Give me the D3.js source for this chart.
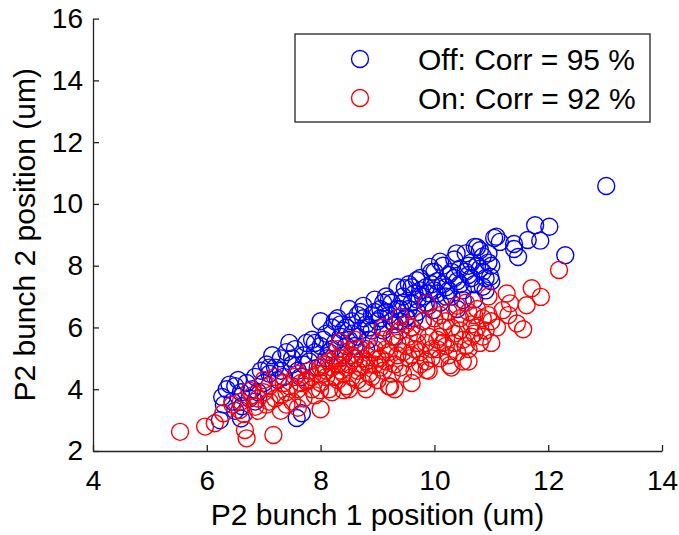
<!DOCTYPE html>
<html lang="en">
<head>
<meta charset="UTF-8">
<title>P2 bunch correlation</title>
<script src="https://d3js.org/d3.v7.min.js"></script>
<style>
  body { margin: 0; background: #fff; }
  text { font-family: "Liberation Sans", Arial, sans-serif; fill: #000; }
</style>
</head>
<body>
<svg id="chart" width="679" height="535"></svg>
<script>
// tick values
const xTicks = [4, 6, 8, 10, 12, 14];
const yTicks = [2, 4, 6, 8, 10, 12, 14, 16];

// legend labels
const seriesNames = ["Off: Corr = 95 %", "On: Corr = 92 %"];
const seriesColors = ["#0000ff", "#ff0000"];

// Off (blue) points, [bunch 1, bunch 2] in um
const offPoints = [
  [6.27,3.75],[6.35,4.0],[6.45,3.6],[6.5,4.1],[6.6,3.9],[6.55,4.3],[6.7,4.2],[6.75,3.7],
  [6.8,4.0],[6.85,4.4],[6.9,3.9],[6.95,4.6],[6.4,4.15],[6.62,3.45],[6.5,3.3],[6.85,3.6],
  [7.0,4.2],[7.05,4.8],[7.1,4.5],[6.23,3.0],[6.3,3.5],[6.6,3.05],[7.58,3.07],[7.67,3.22],
  [7.2,4.7],[7.3,5.0],[7.35,4.4],[7.4,5.2],[7.5,4.8],[7.55,5.3],[7.6,4.6],[7.7,5.1],
  [7.75,5.5],[7.8,4.9],[7.85,5.6],[7.9,5.2],[7.95,4.7],[8.0,6.2],[8.0,5.4],[7.15,5.1],
  [7.45,5.5],[7.25,4.3],[7.65,4.4],[7.5,5.0],[7.7,4.8],[7.9,5.5],[7.3,4.6],[7.1,4.7],
  [8.1,5.8],[8.15,5.2],[8.2,6.0],[8.25,5.5],[8.3,6.3],[8.35,5.7],[8.4,5.1],[8.45,6.0],
  [8.5,6.6],[8.5,5.6],[8.55,6.2],[8.6,5.4],[8.65,6.4],[8.7,5.9],[8.75,6.7],[8.8,6.1],
  [8.85,5.6],[8.9,6.4],[8.95,6.9],[9.0,6.2],[8.3,4.8],[8.6,5.0],[8.1,5.0],[8.4,5.9],
  [8.8,5.3],[8.7,6.5],[8.9,5.9],[8.05,5.6],[8.2,5.3],[8.35,6.1],[8.45,5.4],[8.55,5.8],
  [8.65,5.7],[8.75,6.3],[8.85,6.0],[8.95,6.5],[8.25,6.2],
  [9.05,6.6],[9.1,5.9],[9.15,7.0],[9.2,6.4],[9.25,6.8],[9.3,6.1],[9.35,7.3],[9.4,6.6],
  [9.45,7.0],[9.5,6.3],[9.55,7.4],[9.6,6.8],[9.65,7.1],[9.7,6.5],[9.75,7.6],[9.8,7.0],
  [9.85,7.3],[9.9,6.7],[9.95,7.8],[10.0,7.2],[9.3,5.7],[9.6,6.0],[9.8,6.2],[9.48,7.27],
  [9.69,7.53],[9.92,7.96],[9.51,6.35],[9.98,6.56],[9.2,6.9],[9.4,6.2],[9.7,6.9],[9.9,7.1],
  [9.05,6.3],[9.15,6.5],[9.25,6.2],[9.35,6.6],[9.45,6.8],[9.55,6.6],[9.65,6.3],[9.75,7.2],
  [9.85,6.8],[9.95,7.4],[9.1,6.8],[9.6,7.3],[10.0,7.8],
  [10.05,7.5],[10.1,6.8],[10.15,8.0],[10.2,7.3],[10.25,7.7],[10.3,7.0],[10.35,8.2],[10.4,7.5],
  [10.45,7.9],[10.5,7.2],[10.55,8.4],[10.6,7.7],[10.65,8.1],[10.7,7.4],[10.75,8.6],[10.8,7.9],
  [10.85,8.3],[10.9,7.6],[10.95,8.1],[11.0,8.0],[11.05,8.9],[10.7,6.9],[10.4,6.6],[10.9,7.2],
  [11.0,7.5],[10.1,8.13],[10.39,8.4],[10.71,8.61],[11.09,8.94],[10.5,6.89],[10.85,7.32],
  [10.98,7.64],[10.2,7.0],[10.6,8.0],[10.3,7.8],[10.05,7.1],[10.15,7.4],[10.25,7.2],
  [10.35,7.6],[10.45,7.4],[10.55,7.8],[10.65,7.6],[10.75,8.0],[10.85,7.8],[10.95,8.4],[10.8,8.5],
  [11.15,8.77],[11.4,8.7],[11.4,8.54],[11.47,8.28],[11.64,8.83],[11.77,9.31],[11.86,8.81],
  [12.02,9.26],[12.3,8.34],[13.02,10.58]
];

// On (red) points, [bunch 1, bunch 2] in um
const onPoints = [
  [5.53,2.62],[5.97,2.79],[6.14,2.9],[6.67,2.68],[6.7,2.41],[7.17,2.52],[6.29,3.22],[6.58,3.33],
  [6.85,3.43],[8.0,3.35],[6.45,3.5],[6.65,3.2],[7.6,3.4],
  [6.6,3.6],[6.8,3.8],[6.9,3.3],[7.0,3.9],[7.05,3.5],[7.1,4.1],[7.2,3.7],[7.3,3.3],
  [7.35,4.2],[7.4,3.9],[7.5,3.6],[7.55,4.4],[7.6,4.0],[7.7,3.7],[7.75,4.3],[7.8,4.6],
  [7.85,4.0],[7.9,3.8],[7.95,4.5],[8.0,4.2],[7.2,4.4],[7.0,4.3],[6.75,3.95],[7.99,3.97],
  [7.75,4.24],[7.4,3.5],[7.6,4.5],[7.45,4.1],[7.65,4.2],[7.85,4.4],[7.3,3.8],[7.1,3.6],
  [6.9,3.7],
  [8.05,4.8],[8.1,4.4],[8.15,4.0],[8.2,4.7],[8.25,5.0],[8.3,4.3],[8.35,4.6],[8.4,5.2],
  [8.45,4.1],[8.5,4.8],[8.55,4.4],[8.6,5.0],[8.65,4.6],[8.7,5.3],[8.75,4.2],[8.8,4.9],
  [8.85,4.5],[8.9,5.2],[8.95,4.8],[9.0,5.5],[8.2,3.9],[8.5,4.0],[8.8,4.0],[8.3,5.3],
  [8.6,5.6],[8.34,5.54],[8.63,5.32],[8.4,3.97],[8.1,4.6],[8.4,4.5],[8.7,4.7],[8.9,4.4],
  [8.05,4.5],[8.15,4.9],[8.25,4.4],[8.35,5.0],[8.45,4.7],[8.55,5.1],[8.65,4.3],[8.75,5.0],
  [8.85,4.8],[8.95,5.3],[8.0,4.7],[8.3,4.8],
  [9.05,5.0],[9.1,4.6],[9.15,5.3],[9.2,4.1],[9.25,5.7],[9.3,4.8],[9.35,5.1],[9.4,5.9],
  [9.45,4.5],[9.5,5.4],[9.55,5.0],[9.6,6.0],[9.65,4.6],[9.7,5.5],[9.75,5.2],[9.8,6.2],
  [9.85,4.9],[9.9,5.7],[9.95,5.3],[10.0,6.3],[9.3,4.0],[9.6,4.2],[9.9,4.6],[9.5,6.1],
  [9.0,4.3],[9.4,6.35],[9.86,6.78],[9.1,6.0],[9.22,4.08],[9.86,4.62],[9.2,5.2],[9.4,4.7],
  [9.7,5.8],[9.0,5.0],[9.05,4.7],[9.15,4.9],[9.25,4.5],[9.35,5.5],[9.45,5.2],[9.55,5.7],
  [9.65,5.3],[9.75,4.8],[9.85,5.5],[9.95,5.0],[9.1,5.6],[9.6,5.1],
  [10.05,5.6],[10.1,5.0],[10.15,6.0],[10.2,5.4],[10.25,6.5],[10.3,4.7],[10.35,5.8],[10.4,5.2],
  [10.45,6.3],[10.5,5.6],[10.55,6.8],[10.6,5.3],[10.65,6.1],[10.7,5.8],[10.75,6.6],[10.8,5.5],
  [10.85,6.3],[10.9,5.9],[10.95,7.0],[11.0,6.2],[10.4,6.7],[10.2,6.2],[10.6,4.9],[11.0,5.5],
  [10.5,4.9],[10.27,4.78],[10.1,5.7],[10.7,6.4],[10.3,6.0],[10.05,5.3],[10.15,5.5],[10.25,5.1],
  [10.35,5.5],[10.45,5.9],[10.55,5.4],[10.65,5.7],[10.75,6.0],[10.85,5.7],[10.95,6.4],
  [10.1,6.4],[10.6,6.5],
  [11.2,6.56],[11.27,7.1],[11.33,6.78],[11.45,6.13],[11.56,5.94],[11.62,6.72],[11.71,7.27],
  [11.87,6.99],[12.19,7.86],[11.1,6.0],[11.3,6.4]
];

const svg = d3.select("#chart");

const x = d3.scaleLinear().domain([4, 14]).range([93, 662]);
const y = d3.scaleLinear().domain([2, 16]).range([451, 18.6]);

const tickFont = 28;
const labelFont = 30;
const r = 8.5;

// axes (MATLAB style: box off, ticks inward)
const xAxis = svg.append("g")
    .attr("transform", `translate(0,${y(2)})`)
    .call(d3.axisBottom(x).tickValues(xTicks).tickSize(-6).tickSizeOuter(0).tickPadding(12));
const yAxis = svg.append("g")
    .attr("transform", `translate(${x(4)},0)`)
    .call(d3.axisLeft(y).tickValues(yTicks).tickSize(-6).tickSizeOuter(0).tickPadding(10));

[xAxis, yAxis].forEach(g => {
  g.select(".domain").attr("stroke", "#222").attr("stroke-width", 1.3);
  g.selectAll(".tick line").attr("stroke", "#222").attr("stroke-width", 1.3);
  g.selectAll(".tick text")
    .style("font-family", '"Liberation Sans", Arial, sans-serif')
    .style("font-size", tickFont + "px")
    .attr("fill", "#000");
});
xAxis.selectAll(".tick text").attr("dy", "0.95em");

// axis titles
svg.append("text")
    .attr("x", (x(4) + x(14)) / 2)
    .attr("y", 525)
    .attr("text-anchor", "middle")
    .style("font-size", labelFont + "px")
    .text("P2 bunch 1 position (um)");

svg.append("text")
    .attr("transform", `translate(35,${(y(2) + y(16)) / 2}) rotate(-90)`)
    .attr("text-anchor", "middle")
    .style("font-size", labelFont + "px")
    .text("P2 bunch 2 position (um)");

// scatter: Off first, On on top
const allSeries = [offPoints, onPoints];
allSeries.forEach((pts, i) => {
  svg.append("g")
    .selectAll("circle")
    .data(pts)
    .join("circle")
      .attr("cx", d => x(d[0]))
      .attr("cy", d => y(d[1]))
      .attr("r", r)
      .attr("fill", "none")
      .attr("stroke", seriesColors[i])
      .attr("stroke-width", 1.4);
});

// legend
const legend = svg.append("g");
legend.append("rect")
    .attr("x", 295).attr("y", 34)
    .attr("width", 355).attr("height", 88)
    .attr("fill", "#fff")
    .attr("stroke", "#222")
    .attr("stroke-width", 1.3);

seriesNames.forEach((name, i) => {
  const cy = 59 + i * 39;
  legend.append("circle")
      .attr("cx", 360).attr("cy", cy).attr("r", r)
      .attr("fill", "none")
      .attr("stroke", seriesColors[i])
      .attr("stroke-width", 1.4);
  legend.append("text")
      .attr("x", 418).attr("y", cy + 11)
      .style("font-size", labelFont + "px")
      .text(name);
});
</script>
</body>
</html>
